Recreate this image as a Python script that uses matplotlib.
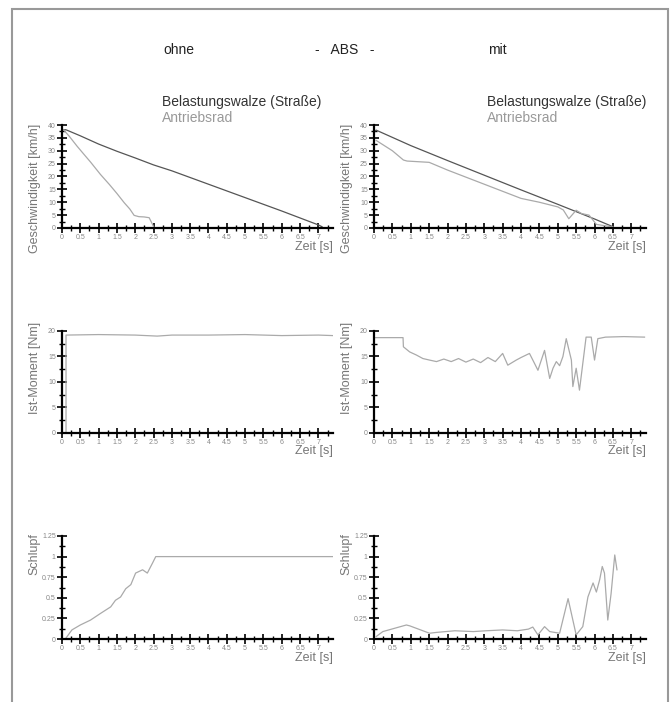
import matplotlib
matplotlib.use('Agg')
import matplotlib.pyplot as plt
from matplotlib.patches import Rectangle
from matplotlib.ticker import MultipleLocator, FuncFormatter

plt.rcParams['font.family'] = ['Liberation Sans', 'DejaVu Sans']

# --- data ---
# speed, ohne ABS
t_walze_ohne = [0.0, 0.1, 0.5, 1.0, 1.5, 2.0, 2.5, 3.0, 4.0, 5.0, 6.0, 7.0, 7.1]
v_walze_ohne = [38.0, 38.2, 35.8, 32.6, 29.8, 27.2, 24.5, 22.2, 17.0, 11.8, 6.6, 1.2, 0.5]
t_rad_ohne = [0.05, 0.2, 0.41, 0.6, 0.78, 1.05, 1.3, 1.5, 1.7, 1.85, 1.97, 2.1,
              2.24, 2.38, 2.45, 2.52]
v_rad_ohne = [38.0, 35.6, 31.8, 28.6, 25.6, 20.8, 16.8, 13.4, 9.8, 7.4, 4.9, 4.4,
              4.3, 4.0, 2.0, 0.0]

# speed, mit ABS
t_walze_mit = [0.0, 0.06, 1.0, 2.0, 3.0, 4.0, 5.0, 6.0, 6.5]
v_walze_mit = [37.5, 38.0, 32.0, 26.2, 20.5, 14.8, 9.2, 3.5, 0.5]
t_rad_mit = [0.06, 0.5, 0.8, 0.9, 1.5, 2.0, 3.0, 4.0, 4.5, 5.0, 5.15, 5.3, 5.5,
             5.65, 5.85, 6.05, 6.5]
v_rad_mit = [34.0, 30.0, 26.4, 26.0, 25.5, 22.5, 17.0, 11.5, 10.0, 8.2, 7.0, 3.6,
             6.9, 5.6, 5.0, 1.4, 0.4]

# torque
t_moment_ohne = [0.11, 0.11, 1.0, 2.0, 2.6, 3.0, 4.0, 5.0, 6.0, 7.0, 7.4]
m_moment_ohne = [0.0, 19.2, 19.3, 19.2, 19.0, 19.2, 19.2, 19.3, 19.1, 19.2, 19.1]
t_moment_mit = [0.0, 0.06, 0.79, 0.8, 0.97, 1.15, 1.33, 1.51, 1.7, 1.9, 2.1, 2.3,
                2.5, 2.7, 2.9, 3.1, 3.3, 3.5, 3.64, 3.87, 4.0, 4.23, 4.37, 4.46,
                4.64, 4.78, 4.87, 4.96, 5.05, 5.14, 5.23, 5.37, 5.41, 5.5, 5.59,
                5.77, 5.91, 6.0, 6.09, 6.3, 6.8, 7.36]
m_moment_mit = [18.7, 18.7, 18.7, 16.9, 15.9, 15.3, 14.6, 14.3, 14.0, 14.5, 14.0,
                14.6, 13.9, 14.5, 13.8, 14.8, 14.0, 15.6, 13.3, 14.3, 14.8, 15.6,
                13.6, 12.3, 16.2, 10.7, 12.7, 14.0, 13.2, 15.0, 18.5, 14.3, 9.1,
                12.7, 8.4, 18.8, 18.8, 14.3, 18.5, 18.8, 18.9, 18.8]

# slip
t_schlupf_ohne = [0.09, 0.27, 0.5, 0.78, 1.05, 1.33, 1.46, 1.6, 1.74, 1.88, 2.01,
                  2.2, 2.33, 2.47, 2.56, 7.45]
s_schlupf_ohne = [0.0, 0.11, 0.17, 0.23, 0.31, 0.39, 0.47, 0.51, 0.61, 0.66, 0.8,
                  0.84, 0.8, 0.92, 1.0, 1.0]
t_schlupf_mit = [0.06, 0.24, 0.88, 0.97, 1.51, 1.7, 2.2, 2.7, 3.05, 3.5, 3.9, 4.2,
                 4.32, 4.46, 4.64, 4.78, 5.05, 5.28, 5.5, 5.68, 5.82, 5.96, 6.05,
                 6.14, 6.21, 6.27, 6.36, 6.45, 6.55, 6.61]
s_schlupf_mit = [0.03, 0.09, 0.17, 0.16, 0.07, 0.08, 0.1, 0.09, 0.1, 0.11, 0.1,
                 0.12, 0.145, 0.05, 0.15, 0.09, 0.07, 0.49, 0.05, 0.15, 0.51, 0.68,
                 0.57, 0.72, 0.88, 0.8, 0.23, 0.55, 1.02, 0.84]

dark = '#555555'
light = '#aaaaaa'
txt = '#777777'

fig = plt.figure(figsize=(6.72, 7.02), dpi=100)

# outer frame
fig.add_artist(Rectangle((12 / 672, -0.02), 656 / 672, 1.02 - 9 / 702,
                         transform=fig.transFigure, fill=False,
                         edgecolor='#999999', linewidth=1.5))

lefts = [62 / 672, 374 / 672]
widths = [271 / 672, 272 / 672]
rows = [(1 - 228 / 702, 103 / 702), (1 - 433 / 702, 102 / 702), (1 - 639 / 702, 103 / 702)]


def fmt(v, pos):
    return '%g' % v


def style(ax, ymax, ymaj, ymin, ylabel, ycenter):
    ax.set_xlim(0, 7.4)
    ax.set_ylim(0, ymax)
    for side in ['top', 'right']:
        ax.spines[side].set_visible(False)
    for side in ['left', 'bottom']:
        ax.spines[side].set_linewidth(1.6)
    ax.xaxis.set_major_locator(MultipleLocator(0.5))
    ax.xaxis.set_minor_locator(MultipleLocator(0.25))
    ax.yaxis.set_major_locator(MultipleLocator(ymaj))
    ax.yaxis.set_minor_locator(MultipleLocator(ymin))
    ax.xaxis.set_major_formatter(FuncFormatter(fmt))
    ax.yaxis.set_major_formatter(FuncFormatter(fmt))
    ax.tick_params(which='major', direction='inout', length=7, width=1.2,
                   labelsize=5, labelcolor='#888888', pad=1)
    ax.tick_params(which='minor', direction='inout', length=4, width=1.0)
    ax.text(1.0, -0.18, 'Zeit [s]', transform=ax.transAxes, ha='right',
            va='center', fontsize=9, color=txt)
    ax.text(-0.1, ycenter, ylabel, transform=ax.transAxes, rotation=90,
            ha='center', va='center', fontsize=9, color=txt)
    ax.patch.set_visible(False)


axes = []
for r, (b, h) in enumerate(rows):
    row = []
    for c in range(2):
        row.append(fig.add_axes([lefts[c], b, widths[c], h]))
    axes.append(row)

# speed
axes[0][0].plot(t_walze_ohne, v_walze_ohne, color=dark, lw=0.9)
axes[0][0].plot(t_rad_ohne, v_rad_ohne, color=light, lw=0.9)
axes[0][1].plot(t_walze_mit, v_walze_mit, color=dark, lw=0.9)
axes[0][1].plot(t_rad_mit, v_rad_mit, color=light, lw=0.9)
for ax in axes[0]:
    style(ax, 40, 5, 2.5, 'Geschwindigkeit [km/h]', 0.38)

# torque
axes[1][0].plot(t_moment_ohne, m_moment_ohne, color=light, lw=0.9)
axes[1][1].plot(t_moment_mit, m_moment_mit, color=light, lw=0.9)
for ax in axes[1]:
    style(ax, 20, 5, 2.5, 'Ist-Moment [Nm]', 0.64)

# slip
axes[2][0].plot(t_schlupf_ohne, s_schlupf_ohne, color=light, lw=0.9)
axes[2][1].plot(t_schlupf_mit, s_schlupf_mit, color=light, lw=0.9)
for ax in axes[2]:
    style(ax, 1.25, 0.25, 0.125, 'Schlupf', 0.82)

# header
fig.text(163 / 672, 1 - 50 / 702, 'ohne', fontsize=10, color='#222222', va='center')
fig.text(345 / 672, 1 - 50 / 702, '-   ABS   -', fontsize=10, color='#222222',
         va='center', ha='center')
fig.text(488 / 672, 1 - 50 / 702, 'mit', fontsize=10, color='#222222', va='center')

# legend texts
for x in [162 / 672, 487 / 672]:
    fig.text(x, 1 - 102 / 702, 'Belastungswalze (Straße)', fontsize=10,
             color='#333333', va='center')
    fig.text(x, 1 - 118 / 702, 'Antriebsrad', fontsize=10, color='#999999',
             va='center')

fig.savefig('out.png', dpi=100)
